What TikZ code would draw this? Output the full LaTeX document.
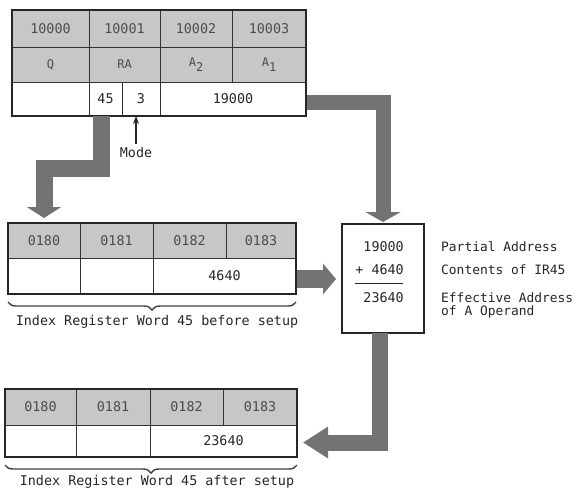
\documentclass[tikz,border=0pt]{standalone}
\usepackage{fontspec}
\setmainfont{DejaVu Sans Mono}
\usetikzlibrary{arrows.meta,fit,decorations.pathreplacing}
\begin{document}
\begin{tikzpicture}[x=1pt,y=-1pt,
  txt/.style={font=\fontsize{13.4}{14}\selectfont, text=black!85},
  lab/.style={txt, font=\fontsize{12.9}{14}\selectfont, anchor=west, inner sep=0pt},
  cell/.style={draw=black!80, line width=0.8pt, inner sep=0pt, outer sep=0pt, anchor=north west, txt},
  shade/.style={cell, fill=black!22, text=black!70},
  small/.style={font=\fontsize{12}{13}\selectfont},
  frame/.style={draw=black!85, line width=2.2pt, inner sep=0pt, outer sep=0pt},
  fat/.style={draw=black!55, line join=miter},
  brc/.style={draw=black!75, line width=1.4pt, decorate, decoration={brace, mirror, amplitude=8pt}}
]
\useasboundingbox (0,0) rectangle (577,491);

% ---------- top table ----------
\node[shade, minimum width=77pt, minimum height=37pt] (h1) at (12,10) {10000};
\node[shade, minimum width=71pt, minimum height=37pt] (h2) at (89,10) {10001};
\node[shade, minimum width=72pt, minimum height=37pt] (h3) at (160,10) {10002};
\node[shade, minimum width=74pt, minimum height=37pt] (h4) at (232,10) {10003};
\node[shade, small, minimum width=77pt, minimum height=35pt] (m1) at (12,47) {Q};
\node[shade, small, minimum width=71pt, minimum height=35pt] (m2) at (89,47) {RA};
\node[shade, small, minimum width=72pt, minimum height=35pt] (m3) at (160,47) {A\raisebox{-5pt}{2}};
\node[shade, small, minimum width=74pt, minimum height=35pt] (m4) at (232,47) {A\raisebox{-5pt}{1}};
\node[cell, minimum width=77pt, minimum height=34pt] (r1) at (12,82) {};
\node[cell, minimum width=33pt, minimum height=34pt] (r2) at (89,82) {45};
\node[cell, minimum width=38pt, minimum height=34pt] (r3) at (122,82) {3};
\node[cell, minimum width=146pt, minimum height=34pt] (r4) at (160,82) {19000};
\node[frame, fit=(h1)(r4)] (top) {};

% ---------- mode ----------
\node[txt, inner sep=0pt] (mode) at (136,152) {Mode};
\draw[line width=1.2pt, draw=black!85, -{Stealth[length=8pt,width=6pt]}] ([yshift=3pt]mode.north) -- (mode.north |- r3.south);

% ---------- middle table ----------
\node[shade, minimum width=72pt, minimum height=35pt] (a1) at (8,223) {0180};
\node[shade, minimum width=73pt, minimum height=35pt] (a2) at (80,223) {0181};
\node[shade, minimum width=73pt, minimum height=35pt] (a3) at (153,223) {0182};
\node[shade, minimum width=70pt, minimum height=35pt] (a4) at (226,223) {0183};
\node[cell, minimum width=72pt, minimum height=36pt] (b1) at (8,258) {};
\node[cell, minimum width=73pt, minimum height=36pt] (b2) at (80,258) {};
\node[cell, minimum width=143pt, minimum height=36pt] (b3) at (153,258) {4640};
\node[frame, fit=(a1)(b3)] (mid) {};
\draw[brc] ([yshift=-8pt]b1.south west) -- ([yshift=-8pt]b3.south east);
\node[txt] (cap1) at (157,322) {Index Register Word 45 before setup};

% ---------- bottom table ----------
\node[shade, minimum width=71pt, minimum height=36pt] (c1) at (5,389) {0180};
\node[shade, minimum width=74pt, minimum height=36pt] (c2) at (76,389) {0181};
\node[shade, minimum width=73pt, minimum height=36pt] (c3) at (150,389) {0182};
\node[shade, minimum width=74pt, minimum height=36pt] (c4) at (223,389) {0183};
\node[cell, minimum width=71pt, minimum height=32pt] (d1) at (5,425) {};
\node[cell, minimum width=74pt, minimum height=32pt] (d2) at (76,425) {};
\node[cell, minimum width=147pt, minimum height=32pt] (d3) at (150,425) {23640};
\node[frame, fit=(c1)(d3)] (bot) {};
\draw[brc] ([yshift=-8pt]d1.south west) -- ([yshift=-8pt]d3.south east);
\node[txt] (cap2) at (157,482) {Index Register Word 45 after setup};

% ---------- adder box ----------
\node[frame, minimum width=82pt, minimum height=109pt, anchor=north west] (box) at (342,224) {};
\node[txt, anchor=east, inner sep=0pt] (s1) at (404,247) {19000};
\node[txt, anchor=east, inner sep=0pt] (s2) at (404,270) {+ 4640};
\node[txt, anchor=east, inner sep=0pt] (s3) at (404,298) {23640};
\draw[line width=1pt, draw=black!85] (355,283) -- (403,283);
\node[lab] (l1) at (441,247) {Partial Address};
\node[lab] (l2) at (441,270) {Contents of IR45};
\node[lab] (l3) at (441,298) {Effective Address};
\node[lab] (l4) at (441,312) {of A Operand};

% ---------- fat arrows ----------
\draw[fat, line width=17pt, -{Triangle[width=34pt,length=11pt]}, shorten >=5pt]
  ([xshift=-4.5pt]r2.south) -- ++(0,52.5) -| ([xshift=36pt]a1.north west);
\draw[fat, line width=15pt, -{Triangle[width=35pt,length=10pt]}, shorten >=2pt]
  ([xshift=1pt,yshift=-3pt]r4.east) -| (box.north);
\draw[fat, line width=18pt, -{Triangle[width=30pt,length=13pt]}, shorten >=6pt]
  ([xshift=1pt,yshift=-3pt]b3.east) -- ([yshift=-3pt]box.west |- b3.east);
\draw[fat, line width=16pt, -{Triangle[width=30pt,length=25pt]}, shorten >=6pt]
  ([xshift=-3pt]box.south) |- ([yshift=-1.5pt]bot.east |- d3.east);
\end{tikzpicture}
\end{document}
